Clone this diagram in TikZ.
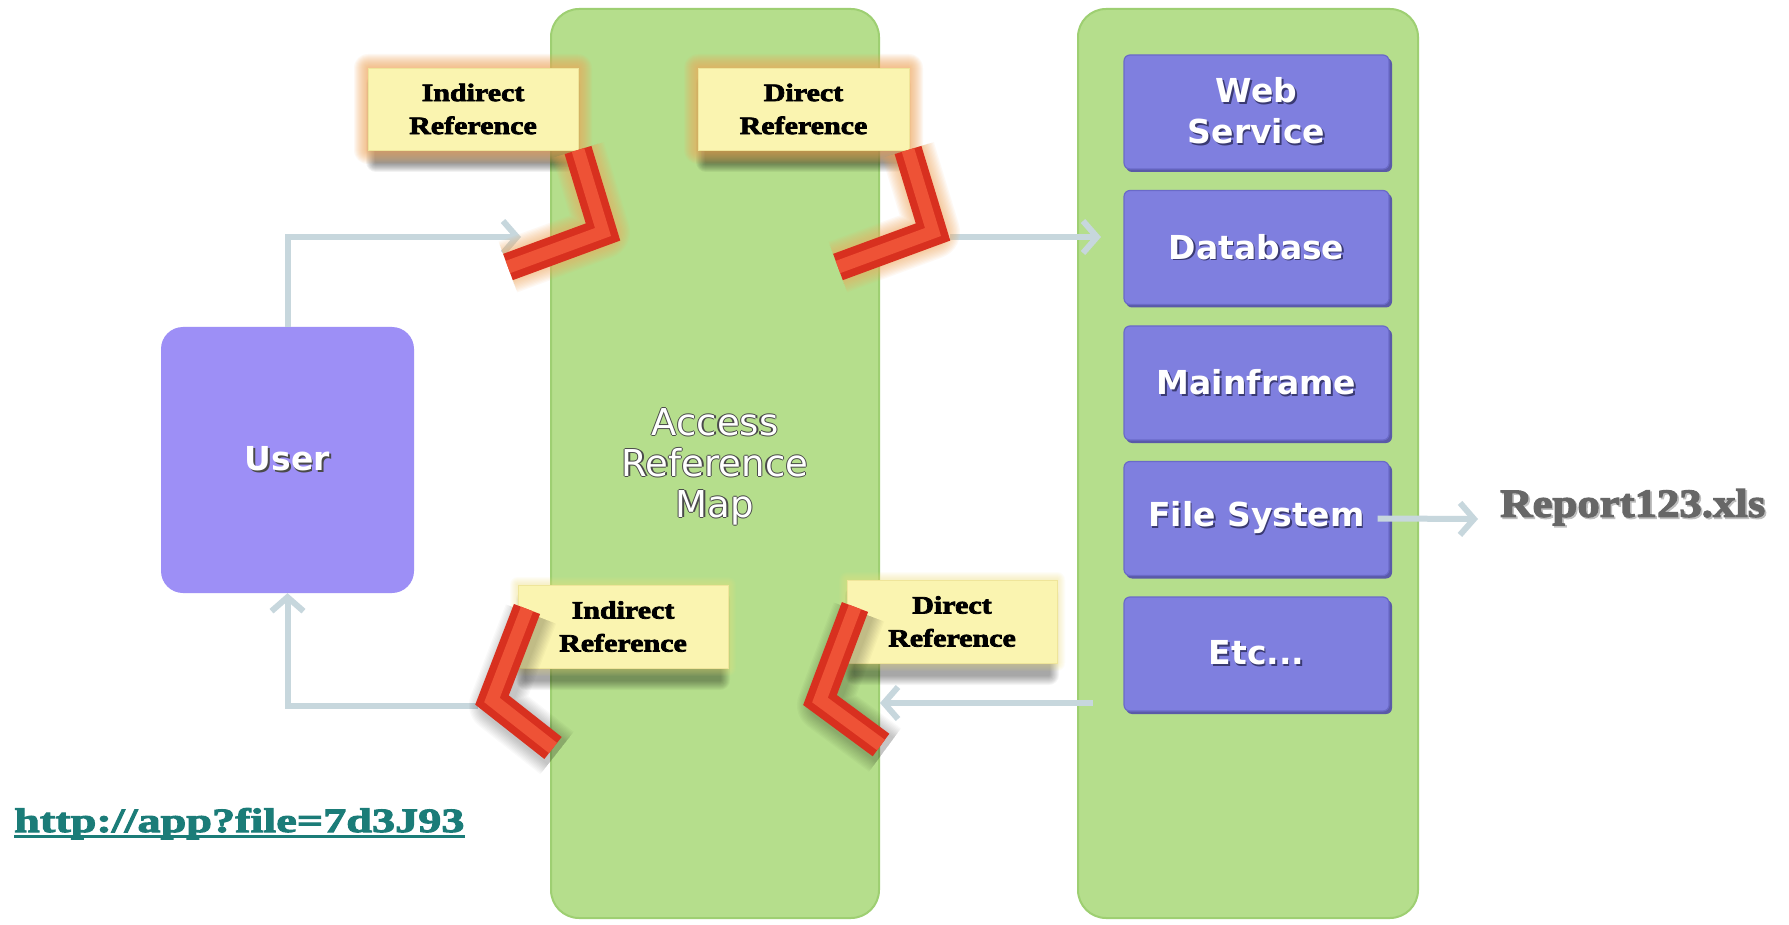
\documentclass[tikz,border=0pt]{standalone}
\usepackage{fontspec}
\usetikzlibrary{arrows.meta}

% Type faces
\newfontfamily\sansfam{DejaVu Sans}
\newfontfamily\tagfam{Liberation Serif}[FakeStretch=1.2,FakeBold=3]
\newfontfamily\reportfam{Liberation Serif}[FakeStretch=1.12,FakeBold=3]
\newfontfamily\urlfam{Liberation Serif}[FakeStretch=1.36,FakeBold=3]

% Palette
\definecolor{colgreen}{HTML}{B5DE8C}
\definecolor{colgreenedge}{HTML}{9ECF72}
\definecolor{boxpurple}{HTML}{7F7FDF}
\definecolor{boxpurpleedge}{HTML}{6A6AC8}
\definecolor{boxpurpledark}{HTML}{5A5AA8}
\definecolor{userpurple}{HTML}{9D8FF6}
\definecolor{tagyellow}{HTML}{FAF4B0}
\definecolor{tagedge}{HTML}{EFE59A}
\definecolor{glowora}{HTML}{F4A85A}
\definecolor{glowyel}{HTML}{F2E27E}
\definecolor{chevdark}{HTML}{D8301F}
\definecolor{chevlight}{HTML}{EE5236}
\definecolor{flowc}{HTML}{C7D7DD}
\definecolor{urlteal}{HTML}{1B7C78}
\definecolor{repgray}{HTML}{676767}
\definecolor{outc}{HTML}{4A4A4A}
\definecolor{txtshadow}{HTML}{3A3A72}

% soft halo made of stacked translucent rectangles: x1 y1 x2 y2 colour steps opacity
\newcommand\glowrect[7]{%
  \foreach \gi in {1,...,#6}{%
    \fill[#5, opacity=#7, rounded corners=\gi pt] ({#1-\gi},{#2-\gi}) rectangle ({#3+\gi},{#4+\gi});
  }}
% soft halo around a bent bar: path, colour, opacity
\newcommand\chevglow[3]{%
  \foreach \gi in {1,...,10}{%
    \draw[#2, opacity=#3, line width={(28+2.6*\gi)*1pt}, line join=round] #1;
  }}
% text with a drop shadow
\newcommand\shd[2][txtshadow]{\leavevmode\rlap{\kern1.6pt\raisebox{-1.6pt}{\color{#1}#2}}#2}
% text with a thin dark outline
\newcommand\outl[1]{\leavevmode
  \rlap{\kern-1.3pt\color{outc}#1}%
  \rlap{\kern1.3pt\color{outc}#1}%
  \rlap{\raisebox{1.3pt}{\color{outc}#1}}%
  \rlap{\raisebox{-1.3pt}{\color{outc}#1}}%
  #1}

\begin{document}
\begin{tikzpicture}[x=1pt,y=-1pt,
  column/.style={fill=colgreen, draw=colgreenedge, line width=2pt, rounded corners=28pt},
  srcbox/.style={rectangle, rounded corners=6pt, fill=boxpurple, draw=boxpurpleedge,
    line width=1.2pt, minimum width=265pt, minimum height=114pt, inner sep=0pt,
    text=white, align=center, font=\sansfam\bfseries\fontsize{33}{41}\selectfont},
  userbox/.style={rectangle, rounded corners=22pt, fill=userpurple, minimum width=253pt,
    minimum height=266pt, inner sep=0pt, text=white,
    font=\sansfam\bfseries\fontsize{33}{40}\selectfont},
  tagbox/.style={rectangle, fill=tagyellow, draw=tagedge, line width=0.8pt,
    minimum width=210pt, minimum height=82pt, inner sep=0pt, align=center,
    font=\tagfam\bfseries\fontsize{25}{33}\selectfont},
  flow/.style={draw=flowc, line width=6pt, -{Straight Barb[length=14pt,width=32pt]}},
  chevout/.style={draw=chevdark, line width=28pt, line join=miter},
  chevin/.style={draw=chevlight, line width=13pt, line join=miter},
]
\useasboundingbox (0,0) rectangle (1789,925);
\fill[white] (0,0) rectangle (1789,925);

% the two green columns
\draw[column] (551,9) rectangle (879,918);
\draw[column] (1078,9) rectangle (1418,918);

% map caption
\node[text=white, align=center, font=\sansfam\fontsize{37}{41}\selectfont]
  (map) at (715,467) {\outl{Access}\\\outl{Reference}\\\outl{Map}};

% the user
\node[userbox] (user) at (287.5,460) {\shd[outc]{User}};

% back-end resources
\foreach \yy in {112,247.5,383,518.5,654}{
  \fill[boxpurpledark, rounded corners=6pt] (1126,\yy-54) rectangle (1392,\yy+60);
}
\node[srcbox] (web) at (1256.5,112)   {\shd{Web}\\\shd{Service}};
\node[srcbox] (db)  at (1256.5,247.5) {\shd{Database}};
\node[srcbox] (mf)  at (1256.5,383)   {\shd{Mainframe}};
\node[srcbox] (fs)  at (1256.5,518.5) {\shd{File System}};
\node[srcbox] (etc) at (1256.5,654)   {\shd{Etc...}};

% reference tags: shadows and halos
\glowrect{376}{84}{570}{162}{black}{10}{0.05}
\glowrect{706}{84}{901}{162}{black}{10}{0.05}
\glowrect{526}{600}{720}{680}{black}{10}{0.04}
\glowrect{855}{596}{1049}{675}{black}{10}{0.04}
\glowrect{368}{68}{578}{150}{glowora}{14}{0.07}
\glowrect{698}{68}{909}{150}{glowora}{14}{0.07}
\glowrect{518}{585}{728}{668}{glowyel}{8}{0.06}
\glowrect{847}{580}{1057}{663}{glowyel}{8}{0.06}

\node[tagbox] (tagTL) at (473,109)     {Indirect\\Reference};
\node[tagbox, minimum width=211pt] (tagTR) at (803.5,109) {Direct\\Reference};
\node[tagbox, minimum height=83pt] (tagBL) at (623,626.5) {Indirect\\Reference};
\node[tagbox, minimum height=83pt] (tagBR) at (952,621.5) {Direct\\Reference};

% connector ends
\coordinate (inA)  at (521,237);
\coordinate (outB) at (950,237);
\coordinate (inB)  at (1101,237);
\coordinate (outC) at (1093,703);
\coordinate (inC)  at (880,703);
\coordinate (outD) at (478,706);
\coordinate (inE)  at (1478,519);

% request and response flow
\draw[flow] (user.north) |- (inA);
\draw[flow] (outB) -- (inB);
\draw[flow] (outC) -- (inC);
\draw[flow] (outD) -| (user.south);
\draw[flow] ([xshift=-12pt]fs.east) -- (inE);

% bent red markers
\chevglow{(578,150) -- (603,232) -- (508,267)}{glowora}{0.07}
\chevglow{(908,150) -- (933,232) -- (838,267)}{glowora}{0.07}
\begin{scope}[shift={(4,5)}]
  \chevglow{(527,609) -- (492,700) -- (553,748)}{black}{0.025}
  \chevglow{(855,607) -- (820,700) -- (881,745)}{black}{0.025}
\end{scope}
\foreach \cp in {{(578,150) -- (603,232) -- (508,267)},
                 {(908,150) -- (933,232) -- (838,267)},
                 {(527,609) -- (492,700) -- (553,748)},
                 {(855,607) -- (820,700) -- (881,745)}}{
  \draw[chevout] \cp;
  \draw[chevin] \cp;
}

% resulting file and request address
\node[anchor=west, inner sep=0pt, text=repgray, font=\reportfam\bfseries\fontsize{40}{44}\selectfont]
  (rep) at (1500,508) {\shd[black!25]{Report123.xls}};
\node[anchor=base west, inner sep=0pt, text=urlteal, font=\urlfam\bfseries\fontsize{34}{38}\selectfont]
  (url) at (14,832) {http://app?file=7d3J93};
\draw[urlteal, line width=2.5pt] ([yshift=-4.5pt]url.base west) -- ([yshift=-4.5pt]url.base east);
\end{tikzpicture}
\end{document}
